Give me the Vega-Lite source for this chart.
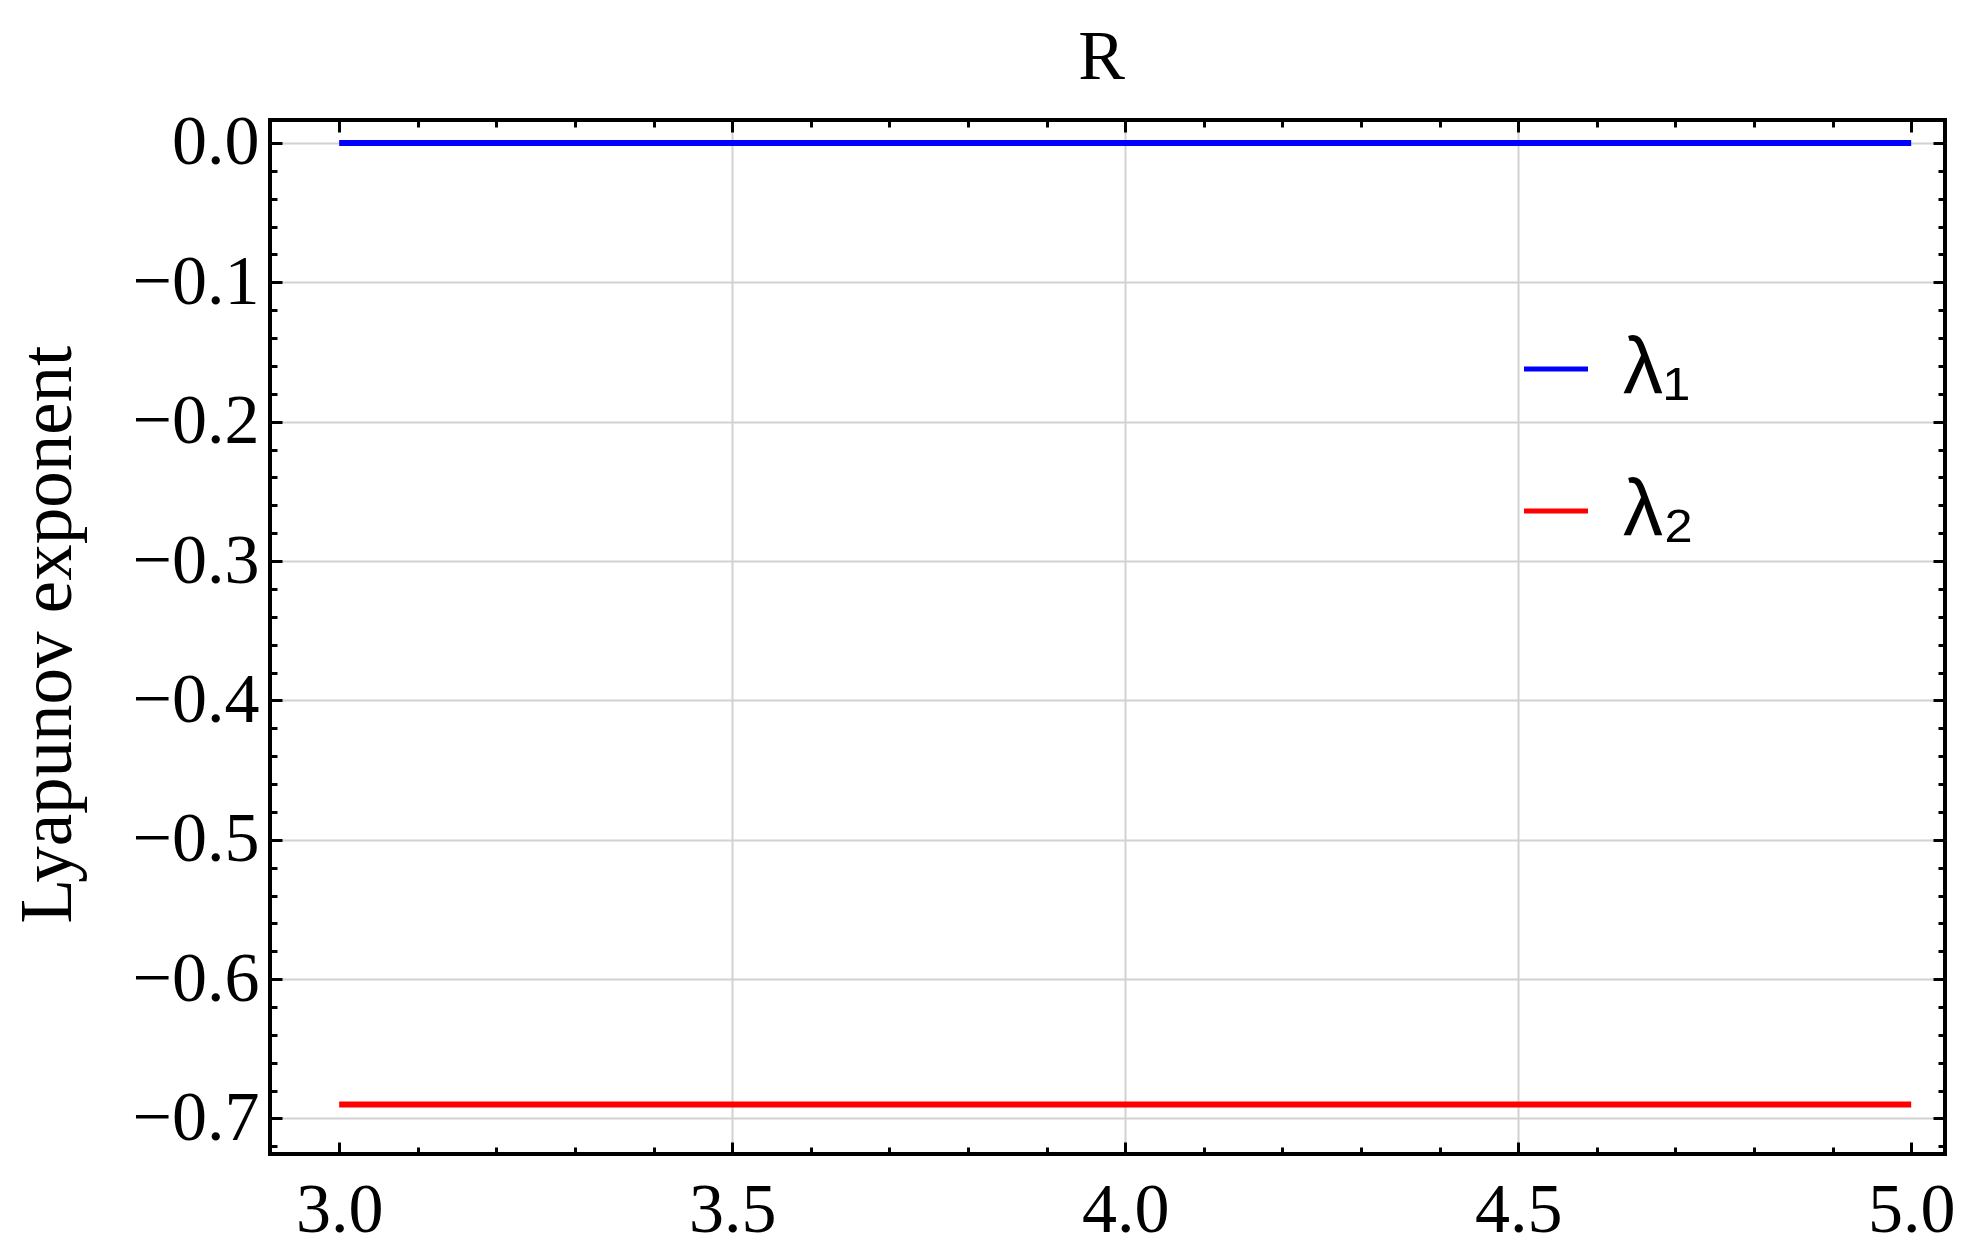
{
  "$schema": "https://vega.github.io/schema/vega-lite/v6.json",
  "width": 1675,
  "height": 1034,
  "autosize": {"type": "none"},
  "padding": {"left": 270, "top": 120, "right": 39, "bottom": 99},
  "background": "white",
  "config": {
    "view": {"stroke": "black", "strokeWidth": 4},
    "axis": {
      "domain": false,
      "tickColor": "black",
      "tickWidth": 3,
      "labelFont": "Liberation Serif",
      "labelColor": "black",
      "labelFontSize": 70,
      "titleFont": "Liberation Serif",
      "titleColor": "black",
      "titleFontSize": 70,
      "titleFontWeight": "normal",
      "gridColor": "#d2d2d2",
      "gridWidth": 2,
      "gridOpacity": 1
    }
  },
  "data": {
    "values": [
      {"R": 3.0, "exponent": 0.0, "series": "λ₁"},
      {"R": 3.5, "exponent": 0.0, "series": "λ₁"},
      {"R": 4.0, "exponent": 0.0, "series": "λ₁"},
      {"R": 4.5, "exponent": 0.0, "series": "λ₁"},
      {"R": 5.0, "exponent": 0.0, "series": "λ₁"},
      {"R": 3.0, "exponent": -0.69, "series": "λ₂"},
      {"R": 3.5, "exponent": -0.69, "series": "λ₂"},
      {"R": 4.0, "exponent": -0.69, "series": "λ₂"},
      {"R": 4.5, "exponent": -0.69, "series": "λ₂"},
      {"R": 5.0, "exponent": -0.69, "series": "λ₂"}
    ]
  },
  "resolve": {"axis": {"x": "independent", "y": "independent"}},
  "layer": [
    {
      "mark": {"type": "line", "strokeWidth": 6, "strokeCap": "butt"},
      "encoding": {
        "x": {
          "field": "R", "type": "quantitative",
          "scale": {"domain": [2.912, 5.043], "nice": false, "zero": false},
          "axis": {
            "orient": "bottom", "values": [3.0, 3.5, 4.0, 4.5, 5.0], "format": ".1f",
            "tickSize": -12, "labelPadding": 34, "grid": false, "title": null,
            "labelFlush": false, "labelOverlap": false
          }
        },
        "y": {
          "field": "exponent", "type": "quantitative",
          "scale": {"domain": [-0.7255, 0.0165], "nice": false, "zero": false},
          "axis": {
            "orient": "left", "values": [0, -0.1, -0.2, -0.3, -0.4, -0.5, -0.6, -0.7], "format": ".1f",
            "tickSize": -12, "labelPadding": 23, "grid": true,
            "labelFlush": false, "labelOverlap": false,
            "title": "Lyapunov exponent", "titleAngle": -90, "titleAlign": "center",
            "titleFontSize": 73,
            "titleBaseline": "alphabetic", "titleX": -200, "titleY": 514
          }
        },
        "color": {
          "field": "series", "type": "nominal",
          "scale": {"domain": ["λ₁", "λ₂"], "range": ["#0000ff", "#ff0000"]},
          "legend": {
            "orient": "none", "legendX": 1246, "legendY": 209, "title": null,
            "symbolType": "stroke", "symbolSize": 4096, "symbolStrokeWidth": 5,
            "labelFont": "Liberation Sans", "labelFontSize": 80, "labelColor": "black",
            "labelOffset": 27, "rowPadding": 62, "padding": 0
          }
        }
      }
    },
    {
      "mark": {"type": "line", "opacity": 0},
      "encoding": {
        "x": {
          "field": "R", "type": "quantitative",
          "axis": {
            "orient": "bottom",
            "values": [3.0, 3.1, 3.2, 3.3, 3.4, 3.5, 3.6, 3.7, 3.8, 3.9, 4.0, 4.1, 4.2, 4.3, 4.4, 4.5, 4.6, 4.7, 4.8, 4.9, 5.0],
            "tickSize": -7, "labels": false, "grid": false, "title": null
          }
        },
        "y": {
          "field": "exponent", "type": "quantitative",
          "axis": {
            "orient": "left",
            "values": [0, -0.02, -0.04, -0.06, -0.08, -0.1, -0.12, -0.14, -0.16, -0.18, -0.2, -0.22, -0.24, -0.26, -0.28, -0.3, -0.32, -0.34, -0.36, -0.38, -0.4, -0.42, -0.44, -0.46, -0.48, -0.5, -0.52, -0.54, -0.56, -0.58, -0.6, -0.62, -0.64, -0.66, -0.68, -0.7, -0.72],
            "tickSize": -7, "labels": false, "grid": false, "title": null
          }
        },
        "detail": {"field": "series"}
      }
    },
    {
      "mark": {"type": "line", "opacity": 0},
      "encoding": {
        "x": {
          "field": "R", "type": "quantitative",
          "axis": {
            "orient": "bottom", "values": [3.5, 4.0, 4.5],
            "ticks": false, "labels": false, "grid": true, "title": null
          }
        },
        "y": {
          "field": "exponent", "type": "quantitative",
          "axis": {
            "orient": "right", "values": [0, -0.1, -0.2, -0.3, -0.4, -0.5, -0.6, -0.7],
            "tickSize": -12, "labels": false, "grid": false, "title": null
          }
        },
        "detail": {"field": "series"}
      }
    },
    {
      "mark": {"type": "line", "opacity": 0},
      "encoding": {
        "x": {
          "field": "R", "type": "quantitative",
          "axis": {
            "orient": "top", "values": [3.0, 3.5, 4.0, 4.5, 5.0],
            "tickSize": -12, "labels": false, "grid": false,
            "title": "R", "titleBaseline": "alphabetic", "titleAlign": "center",
            "titleX": 831, "titleY": -42
          }
        },
        "y": {
          "field": "exponent", "type": "quantitative",
          "axis": {
            "orient": "right",
            "values": [0, -0.02, -0.04, -0.06, -0.08, -0.1, -0.12, -0.14, -0.16, -0.18, -0.2, -0.22, -0.24, -0.26, -0.28, -0.3, -0.32, -0.34, -0.36, -0.38, -0.4, -0.42, -0.44, -0.46, -0.48, -0.5, -0.52, -0.54, -0.56, -0.58, -0.6, -0.62, -0.64, -0.66, -0.68, -0.7, -0.72],
            "tickSize": -7, "labels": false, "grid": false, "title": null
          }
        },
        "detail": {"field": "series"}
      }
    },
    {
      "mark": {"type": "line", "opacity": 0},
      "encoding": {
        "x": {
          "field": "R", "type": "quantitative",
          "axis": {
            "orient": "top",
            "values": [3.0, 3.1, 3.2, 3.3, 3.4, 3.5, 3.6, 3.7, 3.8, 3.9, 4.0, 4.1, 4.2, 4.3, 4.4, 4.5, 4.6, 4.7, 4.8, 4.9, 5.0],
            "tickSize": -7, "labels": false, "grid": false, "title": null
          }
        },
        "y": {"field": "exponent", "type": "quantitative", "axis": null},
        "detail": {"field": "series"}
      }
    }
  ]
}
